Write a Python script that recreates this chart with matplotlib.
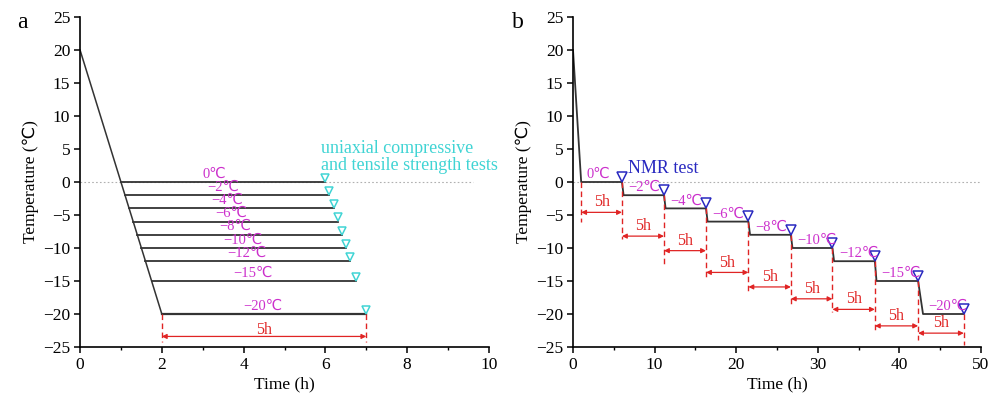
import numpy as np
import matplotlib
matplotlib.use("Agg")
import matplotlib.pyplot as plt
from matplotlib.ticker import MultipleLocator

plt.rcParams['font.family'] = ['Liberation Serif', 'DejaVu Sans']
plt.rcParams['axes.unicode_minus'] = True

# --- (a) one-step freezing: ramp from 20 C, then 5 h hold at each target ---
a_levels = [0, -2, -4, -6, -8, -10, -12, -15, -20]
a_ramp_t = [0, 2]
a_ramp_T = [20, -20]
a_hold_start = [1.0, 1.1, 1.2, 1.3, 1.4, 1.5, 1.6, 1.75, 2.0]
a_hold_end = [6.0, 6.1, 6.2, 6.3, 6.4, 6.5, 6.6, 6.75, 7.0]

# --- (b) stepwise freezing with NMR test after each 5 h hold ---
b_levels = [0, -2, -4, -6, -8, -10, -12, -15, -20]
b_ramp_t = [0, 1.0]
b_ramp_T = [20, 0]
b_hold_start = [1.0, 6.2, 11.35, 16.5, 21.7, 26.9, 32.0, 37.2, 42.9]
b_hold_end = [6.0, 11.15, 16.3, 21.5, 26.7, 31.8, 37.0, 42.3, 47.9]
b_arrow_T = [-4.6, -8.2, -10.4, -13.7, -15.9, -17.7, -19.3, -21.8, -22.9]
b_dash_bottom = [-6.0, -8.6, -12.9, -14.7, -16.8, -18.9, -19.7, -22.6, -23.9, -24.7]

RED = '#e02424'
MAGENTA = '#cc30cc'
CYAN = '#40d4d4'
BLUE = '#2828c0'
LINE = '#333333'


def degc(v):
    return ('\u2212' if v < 0 else '') + f'{abs(v)}\u2103'


def style_axes(ax, xmax, xmajor, xminor):
    ax.set_xlim(0, xmax)
    ax.set_ylim(-25, 25)
    ax.xaxis.set_major_locator(MultipleLocator(xmajor))
    ax.xaxis.set_minor_locator(MultipleLocator(xminor))
    ax.yaxis.set_major_locator(MultipleLocator(5))
    for s in ['top', 'right']:
        ax.spines[s].set_visible(False)
    for s in ['left', 'bottom']:
        ax.spines[s].set_linewidth(1.2)
    ax.tick_params(which='major', direction='out', length=4, width=1.1, labelsize=12.5, pad=3)
    ax.tick_params(which='minor', direction='out', length=2.5, width=1.0)
    ax.tick_params(axis='y', which='minor', left=False)
    ax.set_xlabel('Time (h)', fontsize=12.5, labelpad=3)
    ax.set_ylabel('Temperature (\u2103)', fontsize=12.5, labelpad=3)


def span_arrow(ax, x0, x1, y, label, dy):
    ax.annotate('', xy=(x1, y), xytext=(x0, y),
                arrowprops=dict(arrowstyle='<|-|>', color=RED, lw=0.9,
                                mutation_scale=7, shrinkA=0, shrinkB=0))
    ax.text((x0 + x1) / 2, y + dy, label, color=RED, fontsize=11.5,
            ha='center', va='center')


fig = plt.figure(figsize=(10.03, 4.0), dpi=100)
ax1 = fig.add_axes([0.0798, 0.1325, 0.4077, 0.825])
ax2 = fig.add_axes([0.5713, 0.1325, 0.4067, 0.825])

# ---------------- panel a ----------------
style_axes(ax1, 10, 2, 1)
ax1.plot([0, 9.6], [0, 0], ls=(0, (1.5, 2)), color='#b0b0b0', lw=0.8)
ax1.plot(a_ramp_t, a_ramp_T, color=LINE, lw=1.1)
for T, s, e in zip(a_levels, a_hold_start, a_hold_end):
    ax1.plot([s, e], [T, T], color=LINE, lw=1.3 if T > -20 else 1.6)
    ax1.plot(e, T + 0.65, marker='v', ms=6, mfc='none', mec=CYAN, mew=1.1)
    ax1.text(s + 2.0, T + 0.25, degc(T), color=MAGENTA, fontsize=10.5,
             ha='left', va='bottom')
ax1.text(5.9, 3.85, 'uniaxial compressive\nand tensile strength tests',
         color=CYAN, fontsize=13, ha='left', va='center', linespacing=1.0)
s_last, e_last = a_hold_start[-1], a_hold_end[-1]
for x in (s_last, e_last):
    ax1.plot([x, x], [-20, -24.3], color=RED, lw=1.0, ls=(0, (4, 2.5)))
span_arrow(ax1, s_last, e_last, -23.4, '5h', 1.05)
fig.text(17 / 1003, 0.945, 'a', fontsize=17, ha='left', va='center')

# ---------------- panel b ----------------
style_axes(ax2, 50, 10, 5)
ax2.plot([0, 50], [0, 0], ls=(0, (1.5, 2)), color='#b0b0b0', lw=0.8)
step_t = list(b_ramp_t)
step_T = list(b_ramp_T)
for T, s, e in zip(b_levels, b_hold_start, b_hold_end):
    step_t += [s, e]
    step_T += [T, T]
ax2.plot(step_t, step_T, color=LINE, lw=1.3)

bounds = [b_hold_start[0]] + b_hold_end
tops = [b_levels[0]] + b_levels
for x, top, bot in zip(bounds, tops, b_dash_bottom):
    ax2.plot([x, x], [top, bot], color=RED, lw=1.0, ls=(0, (4, 2.5)))
for i, T in enumerate(b_levels):
    span_arrow(ax2, bounds[i], bounds[i + 1], b_arrow_T[i], '5h', 1.5)
    ax2.plot(b_hold_end[i], T + 0.8, marker='v', ms=6.5, mfc='none', mec=BLUE, mew=1.1)
    ax2.text(b_hold_start[i] + 0.6, T + 0.15, degc(T), color=MAGENTA,
             fontsize=10.5, ha='left', va='bottom')
ax2.text(6.7, 2.0, 'NMR test', color=BLUE, fontsize=13, ha='left', va='center')
fig.text(512 / 1003, 0.945, 'b', fontsize=17, ha='left', va='center')

fig.savefig('out.png', dpi=100)
